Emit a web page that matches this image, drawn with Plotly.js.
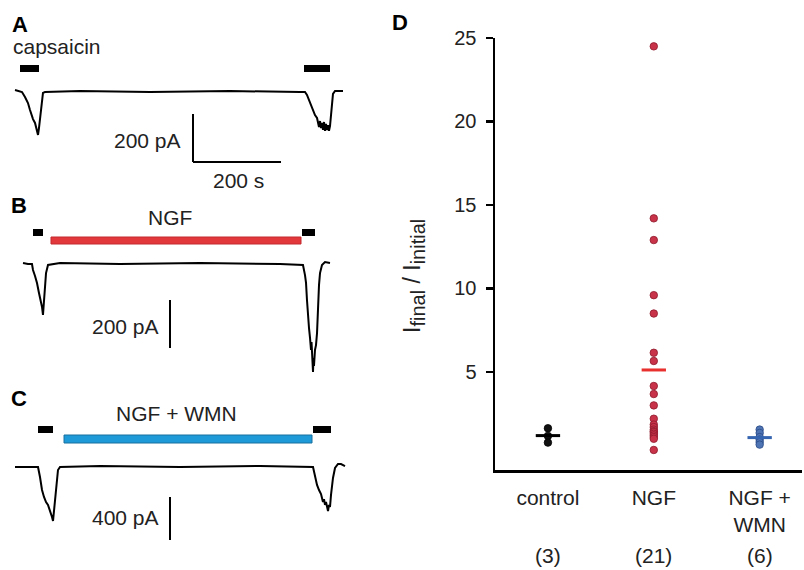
<!DOCTYPE html>
<html>
<head>
<meta charset="utf-8">
<script src="https://cdn.plot.ly/plotly-3.0.1.min.js"></script>
<style>html,body{margin:0;padding:0;background:#fff;}#chart{width:804px;height:570px;}</style>
</head>
<body>
<div id="chart"></div>
<script>
// ---------- Panel A-C : current traces (time in s, current in pA) ----------
const tA = [0, 9.1, 15.9, 22.7, 27.3, 29.5, 34.1, 38.6, 40.9, 45.5, 47.7, 50.0, 52.3, 54.5, 56.8, 59.1, 61.4, 63.6, 68.2, 147.7, 306.8, 488.6, 647.7, 659.1, 663.6, 668.2, 672.7, 677.3, 681.8, 686.4, 688.6, 690.9, 693.2, 695.5, 697.7, 700.0, 702.3, 704.5, 706.8, 709.1, 711.4, 713.6, 715.9, 718.2, 720.5, 722.7, 727.3, 736.4, 745.5];
const iA = [8, 4, 0, -21, -38, -46, -75, -104, -113, -129, -146, -158, -179, -150, -117, -67, -33, -4, 0, 4, 0, 4, 0, 0, -12, -33, -54, -75, -96, -108, -125, -146, -121, -150, -129, -158, -125, -162, -133, -158, -138, -162, -142, -100, -42, -8, 4, 4, 4];

const tB = [18.2, 29.5, 38.6, 40.9, 45.5, 50.0, 54.5, 59.1, 61.4, 63.6, 65.9, 68.2, 70.5, 75.0, 102.3, 238.6, 420.5, 602.3, 654.5, 659.1, 661.4, 663.6, 665.9, 668.2, 670.5, 672.7, 673.9, 675.0, 676.1, 677.3, 678.4, 679.5, 681.8, 684.1, 686.4, 688.6, 690.9, 693.2, 697.7, 704.5, 715.9];
const iB = [4, 0, 0, -25, -50, -79, -121, -158, -179, -212, -138, -88, -38, -4, 4, 0, 4, 0, -4, -46, -79, -150, -221, -267, -308, -358, -325, -400, -367, -450, -392, -425, -358, -338, -288, -150, -88, -38, -4, 8, 4];

const tC = [0, 22.7, 52.3, 56.8, 61.4, 65.9, 70.5, 75.0, 79.5, 81.8, 84.1, 86.4, 88.6, 90.9, 93.2, 95.5, 97.7, 102.3, 193.2, 375.0, 556.8, 677.3, 681.8, 686.4, 690.9, 695.5, 697.7, 700.0, 702.3, 704.5, 706.8, 709.1, 711.4, 713.6, 715.9, 718.2, 720.5, 722.7, 727.3, 734.1, 740.9, 750.0];
const iC = [0, 0, 0, -93, -214, -279, -326, -353, -400, -437, -465, -502, -400, -279, -167, -93, -28, 0, 9, 0, 9, 0, -93, -167, -214, -251, -288, -326, -298, -353, -326, -391, -409, -353, -372, -260, -177, -102, -9, 28, 28, 9];

// drug application periods (s)
const capStartA = [11.4, 656.8], capEndA = [54.5, 715.9];
const capStartB = [40.9, 652.3], capEndB = [63.6, 681.8];
const ngfPeriod = [81.8, 650.0];
const capStartC = [52.3, 677.3], capEndC = [86.4, 718.2];
const wmnPeriod = [111.4, 675.0];

// scale bars
const scaleA = {t: 200, pA: 200};
const scaleB = {pA: 200};
const scaleC = {pA: 400};

// ---------- Panel D ----------
const categories = ['control', 'NGF', 'NGF +<br>WMN'];
const counts = ['(3)', '(21)', '(6)'];
const ctrlVals = [1.63, 1.17, 0.77];
const ngfVals = [24.5, 14.2, 12.9, 9.6, 8.5, 6.15, 5.66, 4.16, 3.68, 3.0, 2.2, 1.85, 1.7, 1.55, 1.45, 1.4, 1.3, 1.2, 1.1, 1.0, 0.33];
const wmnVals = [1.55, 1.35, 1.1, 0.95, 0.8, 0.65];
const groupMeans = [1.19, 5.12, 1.07];
const yTicks = [5, 10, 15, 20, 25];

// ---------- layout helpers ----------
const W = 804, H = 570;
const px = x => x / W;
const py = y => 1 - y / H;
const FONT = 'Liberation Sans, Arial, sans-serif';
const TXT = '#222';

const traceLine = {color: '#000', width: 2};
const data = [
  {x: tA, y: iA, xaxis: 'x', yaxis: 'y', mode: 'lines', line: traceLine, hoverinfo: 'skip'},
  {x: tB, y: iB, xaxis: 'x2', yaxis: 'y2', mode: 'lines', line: traceLine, hoverinfo: 'skip'},
  {x: tC, y: iC, xaxis: 'x3', yaxis: 'y3', mode: 'lines', line: traceLine, hoverinfo: 'skip'}
];

const groups = [
  {vals: ctrlVals, fill: '#111', edge: '#000', mean: '#000'},
  {vals: ngfVals, fill: '#c8334a', edge: '#8e1a2c', mean: '#e8302e'},
  {vals: wmnVals, fill: '#4f74b4', edge: '#2a4a86', mean: '#3565b0'}
];
groups.forEach((g, i) => {
  data.push({x: g.vals.map(() => i), y: g.vals, xaxis: 'x4', yaxis: 'y4', mode: 'markers',
    marker: {size: 7.5, color: g.fill, line: {color: g.edge, width: 0.8}}, hoverinfo: 'skip'});
});
groups.forEach((g, i) => {
  data.push({x: [i - 0.115, i + 0.115], y: [groupMeans[i], groupMeans[i]], xaxis: 'x4', yaxis: 'y4',
    mode: 'lines', line: {color: g.mean, width: 3}, hoverinfo: 'skip'});
});

const traceX = {domain: [0, px(360)], range: [-15 / 0.44, 345 / 0.44], visible: false};
const layout = {
  width: W, height: H, margin: {l: 0, r: 0, t: 0, b: 0},
  paper_bgcolor: '#fff', plot_bgcolor: 'rgba(0,0,0,0)', showlegend: false,
  font: {family: FONT, color: TXT},
  xaxis: Object.assign({anchor: 'y'}, traceX),
  xaxis2: Object.assign({anchor: 'y2'}, traceX),
  xaxis3: Object.assign({anchor: 'y3'}, traceX),
  yaxis: {domain: [py(190), 1], range: [-(190 - 92) * 200 / 48, 92 * 200 / 48], visible: false, anchor: 'x'},
  yaxis2: {domain: [py(380), py(190)], range: [-(380 - 264) * 200 / 48, (264 - 190) * 200 / 48], visible: false, anchor: 'x2'},
  yaxis3: {domain: [0, py(380)], range: [-(570 - 467) * 400 / 43, (467 - 380) * 400 / 43], visible: false, anchor: 'x3'},
  xaxis4: {domain: [px(495), px(802)], range: [-0.5, 2.4], anchor: 'y4',
    tickvals: [0, 1, 2], ticktext: categories,
    ticks: '', showline: true, linewidth: 2.5, linecolor: '#000', showgrid: false, zeroline: false,
    tickfont: {size: 21, color: TXT, family: FONT}, ticklabelstandoff: 7},
  yaxis4: {domain: [py(470), py(38)], range: [-0.87, 25], anchor: 'x4',
    tickvals: yTicks, ticktext: yTicks.map(String), ticks: 'outside', ticklen: 7, tickwidth: 2.5, tickcolor: '#000',
    showline: true, linewidth: 2.5, linecolor: '#000', showgrid: false, zeroline: false,
    tickfont: {size: 20, color: TXT, family: FONT}, ticklabelstandoff: 5},
  shapes: [],
  annotations: []
};

// drug bars
function bar(xr, t0, t1, yTop, yBot, fill, edge) {
  layout.shapes.push({type: 'rect', xref: xr, yref: 'paper', x0: t0, x1: t1, y0: py(yBot), y1: py(yTop),
    fillcolor: fill, line: {color: edge, width: edge ? 1 : 0}});
}
capStartA.forEach((s, k) => bar('x', s, capEndA[k], 65, 72, '#000', null));
capStartB.forEach((s, k) => bar('x2', s, capEndB[k], 229, 236, '#000', null));
bar('x2', ngfPeriod[0], ngfPeriod[1], 237, 244, '#e2373b', '#c22a2e');
capStartC.forEach((s, k) => bar('x3', s, capEndC[k], 426, 433, '#000', null));
bar('x3', wmnPeriod[0], wmnPeriod[1], 435, 443, '#1f9ad8', '#176e9e');

// scale bars
const sbLine = {color: '#000', width: 2};
const tA0 = (193 - 15) / 0.44, iTopA = -(114 - 92) * 200 / 48;
layout.shapes.push({type: 'line', xref: 'x', yref: 'y', x0: tA0, x1: tA0, y0: iTopA, y1: iTopA - scaleA.pA, line: sbLine});
layout.shapes.push({type: 'line', xref: 'x', yref: 'y', x0: tA0, x1: tA0 + scaleA.t, y0: iTopA - scaleA.pA, y1: iTopA - scaleA.pA, line: sbLine});
const tB0 = (170 - 15) / 0.44, iTopB = -(300 - 264) * 200 / 48;
layout.shapes.push({type: 'line', xref: 'x2', yref: 'y2', x0: tB0, x1: tB0, y0: iTopB, y1: iTopB - scaleB.pA, line: sbLine});
const iTopC = -(497 - 467) * 400 / 43;
layout.shapes.push({type: 'line', xref: 'x3', yref: 'y3', x0: tB0, x1: tB0, y0: iTopC, y1: iTopC - scaleC.pA, line: sbLine});

// texts
function ann(text, x, y, opts) {
  layout.annotations.push(Object.assign({text: text, xref: 'paper', yref: 'paper', x: px(x), y: py(y),
    xanchor: 'center', yanchor: 'middle', showarrow: false, font: {size: 21, color: TXT, family: FONT}}, opts || {}));
}
const bold = {font: {size: 22, color: '#000', family: FONT}};
ann('<b>A</b>', 20, 24, bold);
ann('<b>B</b>', 19, 205, bold);
ann('<b>C</b>', 19, 398, bold);
ann('<b>D</b>', 400, 22, bold);
ann('capsaicin', 57, 46);
ann('200 pA', 183, 140, {xanchor: 'right'});
ann('200 s', 238, 180);
ann('NGF', 170, 217);
ann('200 pA', 161, 326, {xanchor: 'right'});
ann('NGF + WMN', 176, 413);
ann('400 pA', 161, 517, {xanchor: 'right'});
ann('I<sub><span style="font-size:20px">final</span></sub> / I<sub><span style="font-size:20px">initial</span></sub>',
    414, 276, {textangle: -90, font: {size: 23, color: TXT, family: FONT}});
counts.forEach((c, i) => {
  layout.annotations.push({text: c, xref: 'x4', yref: 'paper', x: i, y: py(555), xanchor: 'center', yanchor: 'middle',
    showarrow: false, font: {size: 21, color: TXT, family: FONT}});
});

Plotly.newPlot('chart', data, layout, {staticPlot: true, displayModeBar: false});
</script>
</body>
</html>
